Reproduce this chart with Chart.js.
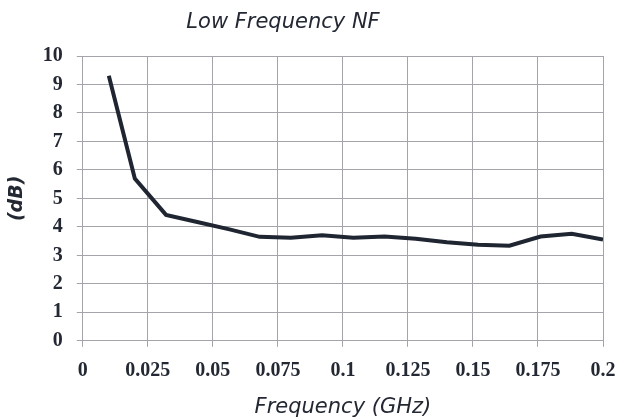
<!DOCTYPE html>
<html>
<head>
<meta charset="utf-8">
<script src="https://cdn.jsdelivr.net/npm/chart.js@4.4.1/dist/chart.umd.min.js"></script>
<style>
  html, body { margin: 0; padding: 0; background: #fff; }
  #wrap { width: 628px; height: 420px; }
</style>
</head>
<body>
<div id="wrap"><canvas id="grafico" width="628" height="420"></canvas></div>
<script>
// dados
const frequencias = [0.01, 0.02, 0.032, 0.044, 0.056, 0.068, 0.08, 0.092, 0.104,
    0.116, 0.128, 0.14, 0.152, 0.164, 0.176, 0.188, 0.2];
const nf = [9.31, 5.7, 4.42, 4.17, 3.92, 3.65, 3.62, 3.71, 3.62,
    3.66, 3.58, 3.46, 3.37, 3.34, 3.66, 3.76, 3.56];
const xTicks = [0, 0.025, 0.05, 0.075, 0.1, 0.125, 0.15, 0.175, 0.2];
const yTicks = [0, 1, 2, 3, 4, 5, 6, 7, 8, 9, 10];

const titulo = 'Low Frequency NF';
const corTexto = '#232833';
const corGrade = '#a3a5ab';
const fonteRotulo = '"DejaVu Sans"';

const pontos = frequencias.map((x, i) => ({ x: x, y: nf[i] }));

// titulo desenhado a mao (fica um pouco a esquerda no original)
const tituloPlugin = {
    id: 'tituloPlugin',
    afterDraw(chart) {
        const ctx = chart.ctx;
        ctx.save();
        ctx.font = 'italic 21px ' + fonteRotulo;
        ctx.fillStyle = corTexto;
        ctx.textAlign = 'center';
        ctx.textBaseline = 'alphabetic';
        ctx.fillText(titulo, 283, 28);
        ctx.restore();
    }
};

const ctx = document.getElementById('grafico').getContext('2d');
new Chart(ctx, {
    type: 'line',
    data: {
        datasets: [{
            label: 'NF',
            data: pontos,
            borderColor: '#1f2632',
            borderWidth: 4,
            pointRadius: 0,
            fill: false,
            tension: 0
        }]
    },
    options: {
        responsive: false,
        animation: false,
        layout: { padding: { left: 6, right: 25, top: 56, bottom: 0 } },
        plugins: {
            legend: { display: false },
            title: { display: false },
            tooltip: { enabled: false }
        },
        scales: {
            x: {
                type: 'linear',
                min: 0,
                max: 0.2,
                afterBuildTicks(axis) { axis.ticks = xTicks.map(v => ({ value: v })); },
                ticks: {
                    autoSkip: false,
                    maxRotation: 0,
                    padding: 12,
                    color: corTexto,
                    font: { family: '"Liberation Serif"', size: 20, weight: 'bold' },
                    callback: v => String(v)
                },
                grid: { color: corGrade, tickLength: 6, lineWidth: 1 },
                border: { color: corGrade },
                title: {
                    display: true,
                    text: 'Frequency (GHz)',
                    color: corTexto,
                    font: { family: fonteRotulo, size: 21, style: 'italic' },
                    padding: { top: 0, bottom: 0 }
                }
            },
            y: {
                min: 0,
                max: 10,
                afterBuildTicks(axis) { axis.ticks = yTicks.map(v => ({ value: v })); },
                ticks: {
                    padding: 14,
                    color: corTexto,
                    font: { family: '"Liberation Serif"', size: 20, weight: 'bold' }
                },
                grid: { color: corGrade, tickLength: 6, lineWidth: 1 },
                border: { color: corGrade },
                title: {
                    display: true,
                    text: '(dB)',
                    color: corTexto,
                    font: { family: fonteRotulo, size: 19, style: 'italic', weight: 'bold' },
                    padding: { top: 0, bottom: 0 }
                }
            }
        }
    },
    plugins: [tituloPlugin]
});
</script>
</body>
</html>
